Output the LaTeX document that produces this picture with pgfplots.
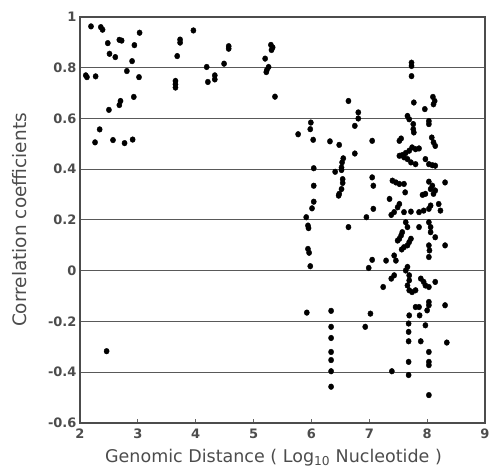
\documentclass[border=0pt]{standalone}
\usepackage{fontspec}
\setmainfont{DejaVu Sans}
\usepackage{pgfplots}
\pgfplotsset{compat=1.18}
\definecolor{txt}{gray}{0.3}

\pgfplotstableread{
x y
2.19 0.963
2.36 0.960
2.39 0.950
2.48 0.897
2.68 0.910
2.72 0.907
3.03 0.938
2.94 0.889
2.51 0.855
2.61 0.842
2.90 0.826
2.81 0.787
3.02 0.763
2.10 0.770
2.12 0.763
2.27 0.766
2.93 0.685
2.70 0.669
2.68 0.653
2.50 0.634
2.34 0.557
2.26 0.506
2.57 0.515
2.77 0.503
2.91 0.517
2.46 -0.317
3.73 0.911
3.73 0.899
3.68 0.846
3.65 0.748
3.65 0.735
3.65 0.722
3.96 0.947
4.57 0.885
4.57 0.875
4.49 0.816
4.19 0.803
4.33 0.770
4.33 0.754
4.21 0.744
5.30 0.890
5.33 0.880
5.31 0.870
5.20 0.836
5.26 0.803
5.23 0.791
5.22 0.783
5.37 0.686
5.99 0.584
5.98 0.558
6.03 0.516
5.77 0.538
6.04 0.404
6.04 0.335
6.04 0.272
6.01 0.246
5.91 0.211
5.94 0.178
5.95 0.168
5.94 0.086
5.96 0.071
5.98 0.018
5.92 -0.165
6.64 0.669
6.81 0.624
6.81 0.600
6.75 0.571
6.32 0.510
6.48 0.496
6.75 0.462
6.55 0.443
6.53 0.427
6.52 0.407
6.52 0.397
6.41 0.390
6.54 0.361
6.54 0.346
6.52 0.322
6.48 0.303
6.47 0.296
6.64 0.172
6.34 -0.158
6.34 -0.221
6.34 -0.265
6.34 -0.320
6.34 -0.352
6.34 -0.396
6.34 -0.457
7.05 0.512
7.05 0.368
7.07 0.335
7.07 0.244
6.95 0.211
7.05 0.043
6.99 0.011
7.24 -0.064
7.02 -0.169
6.93 -0.221
7.73 0.820
7.73 0.807
7.73 0.767
7.77 0.663
7.96 0.637
8.10 0.685
8.13 0.669
8.11 0.656
7.66 0.610
7.69 0.597
7.76 0.578
7.76 0.558
7.77 0.545
8.03 0.590
8.03 0.578
7.55 0.521
7.52 0.512
8.08 0.525
8.11 0.506
8.14 0.492
7.52 0.453
7.57 0.456
7.63 0.464
7.69 0.473
7.74 0.486
7.80 0.479
7.86 0.482
7.66 0.440
7.72 0.427
7.80 0.420
7.60 0.447
7.97 0.440
8.03 0.420
8.09 0.416
8.14 0.414
7.40 0.355
7.46 0.348
7.52 0.342
7.60 0.342
7.62 0.309
8.03 0.351
8.09 0.335
8.14 0.316
8.11 0.303
8.31 0.348
7.35 0.283
7.92 0.299
7.97 0.303
8.06 0.322
7.52 0.263
7.49 0.250
7.43 0.231
7.38 0.220
7.60 0.231
7.72 0.233
7.86 0.231
7.94 0.237
8.03 0.244
8.06 0.257
8.20 0.263
8.23 0.237
7.63 0.191
7.66 0.172
7.86 0.172
8.03 0.191
8.06 0.172
8.06 0.152
7.57 0.152
7.55 0.139
7.52 0.126
7.49 0.119
8.14 0.132
7.72 0.126
7.69 0.113
7.66 0.100
7.60 0.093
7.56 0.084
8.03 0.100
8.04 0.080
8.03 0.054
8.31 0.100
7.43 0.060
7.46 0.040
7.29 0.040
7.66 0.015
7.63 0.001
7.43 -0.018
7.38 -0.031
7.69 -0.018
7.69 -0.038
7.66 -0.058
7.69 -0.077
7.74 -0.084
7.89 -0.031
7.94 -0.044
7.97 -0.058
8.03 -0.064
8.14 -0.044
7.80 -0.077
7.80 -0.143
7.86 -0.143
8.03 -0.136
8.00 -0.156
8.31 -0.136
7.69 -0.176
7.87 -0.176
7.68 -0.208
7.68 -0.241
7.68 -0.278
7.68 -0.359
7.68 -0.411
7.39 -0.396
8.03 -0.123
7.97 -0.215
7.89 -0.278
8.34 -0.283
8.03 -0.320
8.03 -0.359
8.03 -0.372
8.03 -0.490
}\corr

\begin{document}
\begin{tikzpicture}
\begin{axis}[
    name=ax,
    scale only axis,
    width=405pt, height=406pt,
    xmin=2, xmax=9, ymin=-0.6, ymax=1,
    xtick={2,3,4,5,6,7,8,9},
    ytick={-0.6,-0.4,-0.2,0,0.2,0.4,0.6,0.8,1},
    ymajorgrids,
    grid style={black!65, line width=1pt},
    axis line style={black!70, line width=1.2pt},
    xtick pos=bottom, tick align=inside,
    major tick length=4pt,
    x tick style={black!60, line width=0.8pt},
    y tick style={draw=none},
    /pgf/number format/assume math mode=true,
    tick label style={font=\fontsize{13}{15}\selectfont\bfseries, text=txt},
    xticklabel style={yshift=-2pt},
    xlabel={Genomic Distance ( Log\textsubscript{10} Nucleotide )},
    ylabel={Correlation coefficients},
    xlabel style={font=\fontsize{17.5}{20}\selectfont, text=txt, yshift=-4pt, xshift=-9pt},
    ylabel style={font=\fontsize{18.5}{21}\selectfont, text=txt, yshift=14pt},
]
\addplot[only marks, mark=*, mark size=2.6pt, mark options={yscale=1.1}, black] table {\corr};
\end{axis}
\pgfresetboundingbox
\path[use as bounding box] ([xshift=-80pt,yshift=-48pt]ax.south west) rectangle ([xshift=7pt,yshift=17pt]ax.north east);
\end{tikzpicture}
\end{document}
